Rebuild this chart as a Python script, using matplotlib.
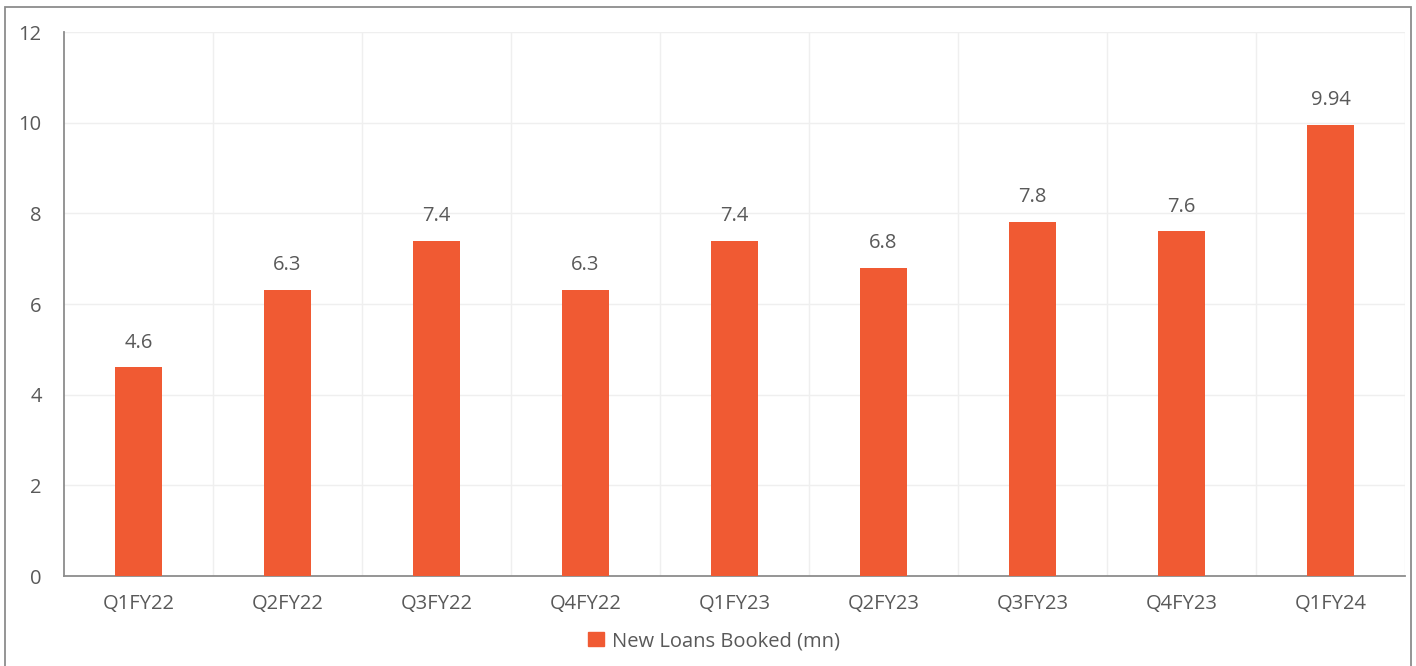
import matplotlib.pyplot as plt
from matplotlib.patches import Rectangle, Patch

# data
quarters = ['Q1FY22', 'Q2FY22', 'Q3FY22', 'Q4FY22', 'Q1FY23',
            'Q2FY23', 'Q3FY23', 'Q4FY23', 'Q1FY24']
loans = [4.6, 6.3, 7.4, 6.3, 7.4, 6.8, 7.8, 7.6, 9.94]
labels = ['4.6', '6.3', '7.4', '6.3', '7.4', '6.8', '7.8', '7.6', '9.94']

bar_color = '#F05A33'
text_color = '#595959'
plt.rcParams['font.family'] = ['Open Sans', 'DejaVu Sans']

W, H = 1416, 666
fig = plt.figure(figsize=(W / 100, H / 100), dpi=100)
ax = fig.add_axes([64 / W, 1 - 576 / H, (1405 - 64) / W, (576 - 32) / H])

x = list(range(len(quarters)))
ax.bar(x, loans, width=0.31, color=bar_color, zorder=3)
for xi, v, lab in zip(x, loans, labels):
    ax.text(xi, v + 0.33, lab, ha='center', va='bottom',
            fontsize=14.5, color=text_color)

ax.set_xlim(-0.5, len(quarters) - 0.5)
ax.set_ylim(0, 12)
ax.set_yticks(range(0, 13, 2))
ax.set_xticks(x)
ax.set_xticklabels(quarters)
ax.tick_params(axis='both', length=0, labelsize=14.5, colors=text_color)
ax.tick_params(axis='x', pad=13)
ax.tick_params(axis='y', pad=16)

# light grid: horizontal at ticks, vertical at category boundaries
for yv in range(2, 13, 2):
    ax.axhline(yv, color='#efefef', lw=1, zorder=0)
for b in range(1, len(quarters) + 1):
    ax.axvline(b - 0.5, color='#efefef', lw=1, zorder=0)

for s in ['top', 'right']:
    ax.spines[s].set_visible(False)
ax.spines['left'].set_color('#8c8c8c')
ax.spines['bottom'].set_color('#8c8c8c')
ax.spines['left'].set_linewidth(1.3)
ax.spines['bottom'].set_linewidth(1.3)

fig.legend(handles=[Patch(color=bar_color, label='New Loans Booked (mn)')],
           loc='center', bbox_to_anchor=(714 / W, 1 - 641 / H),
           frameon=False, fontsize=14.5, labelcolor=text_color,
           handlelength=0.75, handleheight=0.75, handletextpad=0.4)

# outer frame
fig.patches.append(Rectangle((5 / W, -0.05), (1411 - 5) / W, 1.05 - 7 / H,
                             transform=fig.transFigure, fill=False,
                             edgecolor='#8c8c8c', lw=1.3))

fig.savefig('out.png', dpi=100)
